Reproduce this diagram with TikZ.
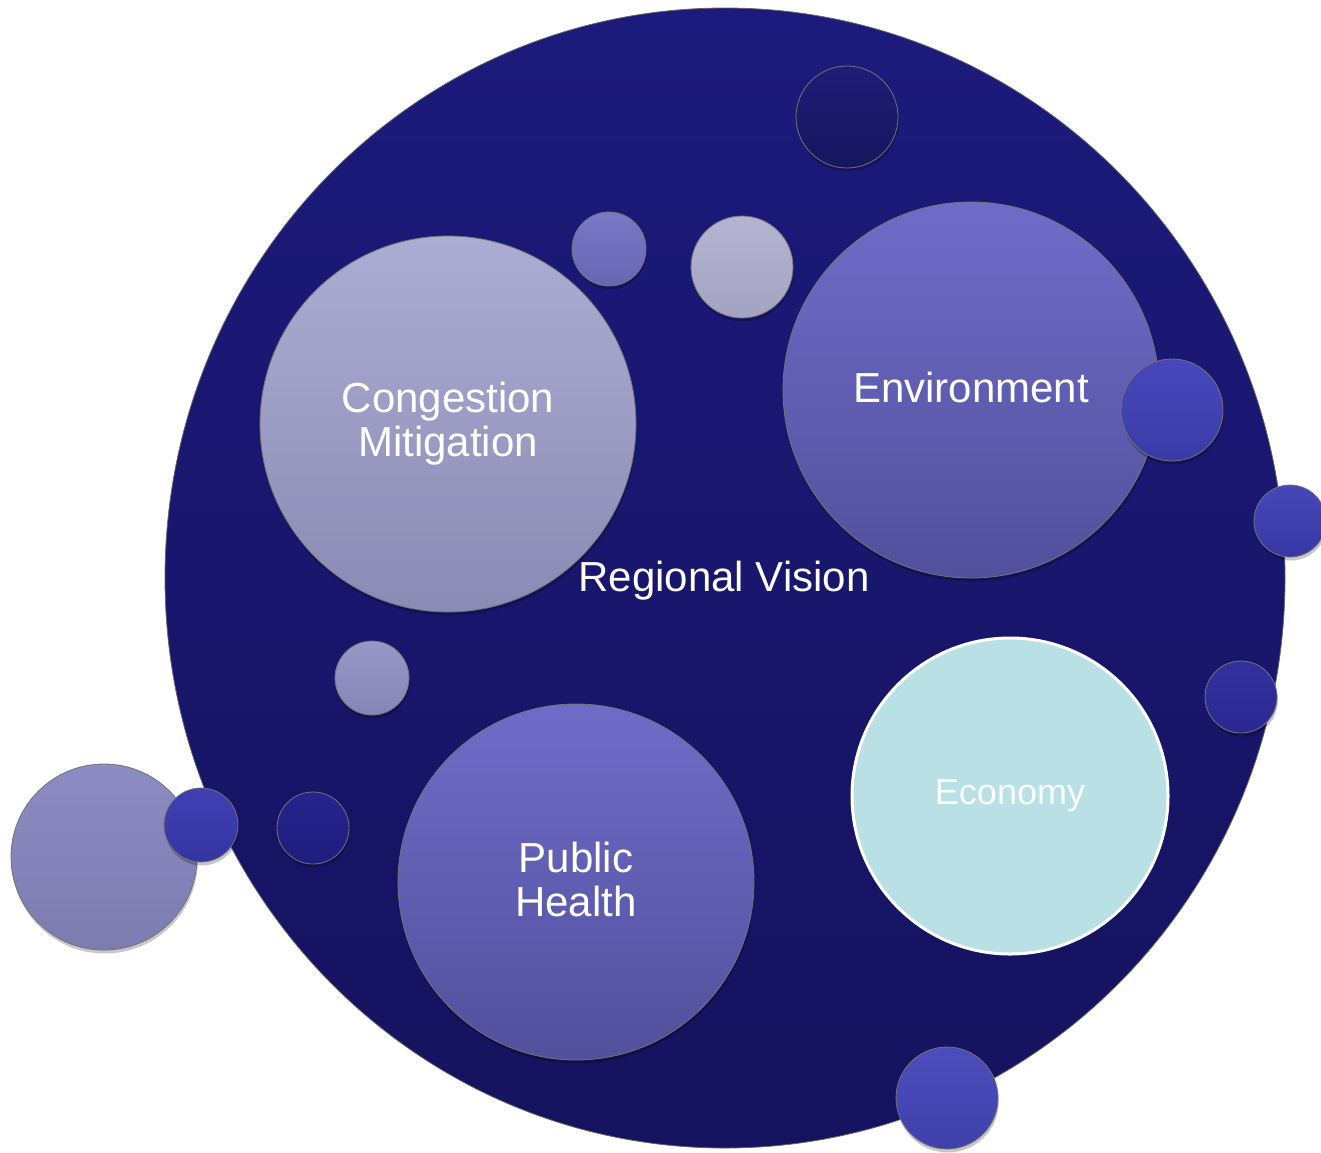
\documentclass[tikz,border=0pt]{standalone}
\usepackage{fontspec}
\setmainfont{Liberation Sans}
\usetikzlibrary{shapes.geometric}
\definecolor{econ}{HTML}{B9E0E4}
\begin{document}
\begin{tikzpicture}[x=1pt,y=-1pt,
  bubble/.style={circle,inner sep=0pt,draw=black!55,line width=0.8pt,
    preaction={fill=black,fill opacity=0.22,transform canvas={shift={(0.8pt,-3.5pt)}}}},
  shadeA/.style 2 args={/utils/exec={\definecolor{tA}{HTML}{#1}\definecolor{tB}{HTML}{#2}},top color=tA,bottom color=tB},
  lbl/.style={text=white,align=center,font=\fontsize{42}{44}\selectfont}]
\useasboundingbox (0,0) rectangle (1321,1152);
% big outer circle
\node[ellipse,minimum width=1120,minimum height=1140,inner sep=0pt,
      shadeA={1C1A7C}{15125E},draw=black!60,line width=0.8pt] (vision) at (725,578) {};
% gray circle left, behind
\node[bubble,minimum size=186,shadeA={8C8CC4}{7C7CB0}] (g1) at (104,857) {};
% small bubbles
\node[bubble,minimum size=102,shadeA={1E1C76}{18165E}] (s1) at (847,117) {};
\node[bubble,minimum size=74,shadeA={7878C8}{6666B2}] (s2) at (609,249) {};
\node[bubble,minimum size=102,shadeA={B4B4D2}{A4A4C2}] (s3) at (742,267) {};
\node[bubble,minimum size=74,shadeA={9898C8}{8686B6}] (s4) at (372,678) {};
\node[bubble,minimum size=72,shadeA={26248E}{1E1C7C}] (s5) at (313,828) {};
\node[bubble,minimum size=72,shadeA={32309E}{2A2890}] (s6) at (1241,697) {};
% main topic circles
\node[bubble,minimum size=376,shadeA={ACACD4}{8A8AB4},lbl] (cong) at (448,424) {Congestion\\Mitigation};
\node[bubble,minimum size=376,shadeA={6E6CC8}{52509C}] (env) at (971,390) {};
\node[lbl] (envt) at (971,387) {Environment};
\node[bubble,minimum size=356,shadeA={6E6CC8}{52509C}] (ph) at (576,882) {};
\node[lbl] (pht) at (576,879) {Public\\Health};
\node[circle,inner sep=0pt,minimum size=316,fill=econ,draw=white,line width=3pt,
      text=white!94!econ,font=\fontsize{36}{40}\selectfont] (econ) at (1010,796) {Economy};
% bubbles on top
\node[bubble,minimum size=102,shadeA={4848BC}{3A3AA6}] (s7) at (1172,410) {};
\node[bubble,minimum size=72,shadeA={4646B8}{3838A4}] (s8) at (1290,521) {};
\node[bubble,minimum size=74,shadeA={4040B4}{3434A2}] (s9) at (201,825) {};
\node[bubble,minimum size=102,shadeA={4C4CBC}{4040AC}] (s10) at (947,1098) {};
% central label
\node[lbl] (vt) at (724,581) {Regional Vision};
\end{tikzpicture}
\end{document}
